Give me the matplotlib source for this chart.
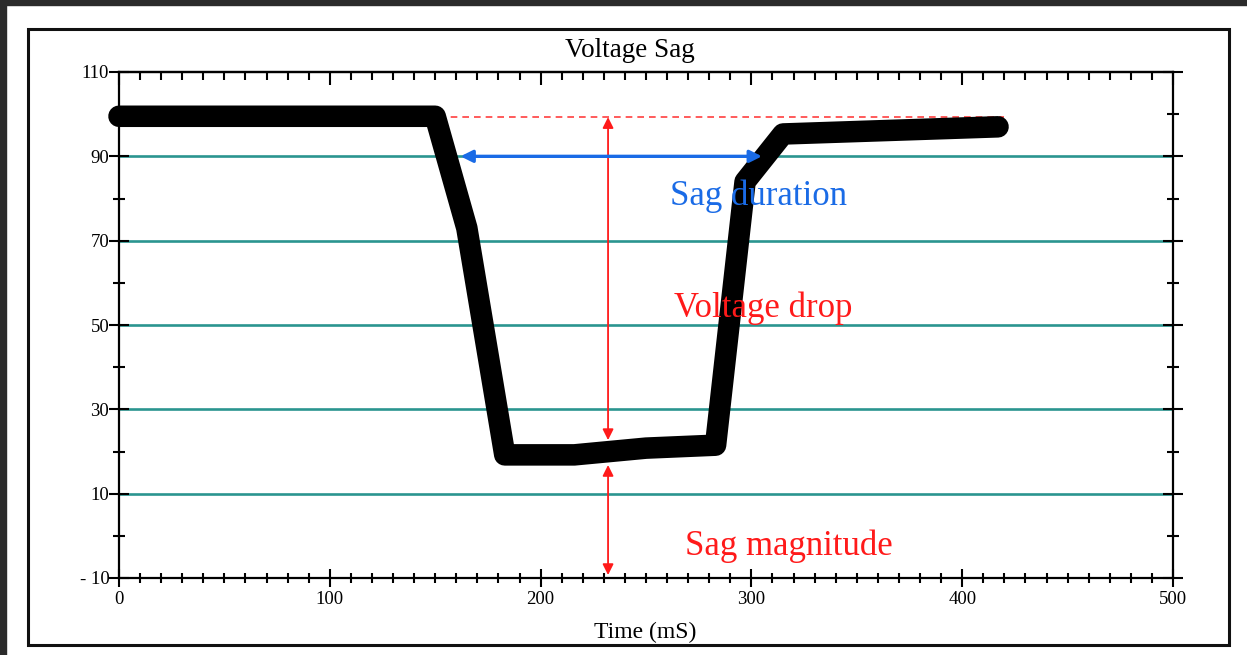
import numpy as np
import matplotlib
matplotlib.use("Agg")
from matplotlib import pyplot as plt
from matplotlib.patches import Rectangle
from matplotlib.ticker import MultipleLocator

plt.rcParams['font.family'] = ['Liberation Serif', 'DejaVu Serif']

# voltage trace (time in mS, voltage)
time_ms = [0, 150, 165, 183, 216, 250, 283, 297, 315, 417]
voltage = [99.5, 99.5, 73, 19.2, 19.2, 20.8, 21.5, 84, 95.3, 97]

grid_levels = [10, 30, 50, 70, 90]
y_ticks = [-10, 10, 30, 50, 70, 90, 110]
y_ticklabels = ["- 10", "10", "30", "50", "70", "90", "110"]
x_ticks = [0, 100, 200, 300, 400, 500]

# annotation values
pre_sag_level = 99.3
dashed_span = [152, 420]
drop_x = 232
drop_top, drop_bottom = 99.3, 22.7
mag_top, mag_bottom = 16.8, -9.3
duration_y = 90
duration_span = [162, 305]

W, H = 1247, 655
fig = plt.figure(figsize=(W / 100, H / 100), dpi=100)

# dark frame strips + outer box
fig.patches.append(Rectangle((0, 1 - 5 / H), 1, 5 / H, transform=fig.transFigure,
                             color="#2b2b2b", zorder=0))
fig.patches.append(Rectangle((0, 0), 6 / W, 1, transform=fig.transFigure,
                             color="#2b2b2b", zorder=0))
fig.patches.append(Rectangle((28 / W, 1 - 645 / H), (1229 - 28) / W, (645 - 29) / H,
                             transform=fig.transFigure, fill=False, ec="#111111",
                             lw=2.2, zorder=1))

ax = fig.add_axes([119 / W, 1 - 578 / H, (1173 - 119) / W, (578 - 72) / H])
ax.set_xlim(0, 500)
ax.set_ylim(-10, 110)

for g in grid_levels:
    ax.axhline(g, color="#2a958f", lw=1.9, zorder=1)

ax.plot(time_ms, voltage, color="black", lw=15.5, solid_capstyle="round",
        solid_joinstyle="round", zorder=3, clip_on=False)

ax.plot(dashed_span, [pre_sag_level, pre_sag_level], color="#ff4040", lw=1.2,
        dashes=(4, 3), zorder=2)

red_arrow = dict(arrowstyle="<|-|>", color="#ff1a1a", lw=1.3, mutation_scale=16,
                 shrinkA=0, shrinkB=0)
ax.annotate("", xy=(drop_x, drop_top), xytext=(drop_x, drop_bottom),
            arrowprops=red_arrow, zorder=4)
ax.annotate("", xy=(drop_x, mag_top), xytext=(drop_x, mag_bottom),
            arrowprops=red_arrow, zorder=4)
ax.annotate("", xy=(duration_span[0], duration_y), xytext=(duration_span[1], duration_y),
            arrowprops=dict(arrowstyle="<|-|>", color="#1a6be6", lw=2.4,
                            mutation_scale=18, shrinkA=0, shrinkB=0), zorder=4)

ax.text(303.4, 78.5, "Sag duration", color="#1a6be6", fontsize=25,
        ha="center", va="baseline", zorder=5)
ax.text(305.8, 51.9, "Voltage drop", color="#ff1a1a", fontsize=25,
        ha="center", va="baseline", zorder=5)
ax.text(317.8, -4.5, "Sag magnitude", color="#ff1a1a", fontsize=25,
        ha="center", va="baseline", zorder=5)

# ticks
ax.set_xticks(x_ticks)
ax.xaxis.set_minor_locator(MultipleLocator(10))
ax.set_yticks(y_ticks)
ax.set_yticklabels(y_ticklabels)
ax.yaxis.set_minor_locator(MultipleLocator(10))
ax.tick_params(axis="x", which="major", direction="inout", length=13, width=1.5,
               labelsize=13.5, pad=3)
ax.tick_params(axis="x", which="minor", direction="inout", length=7, width=1.5)
ax.tick_params(axis="y", which="major", direction="inout", length=14, width=1.5,
               labelsize=13.5, pad=0, right=True)
ax.tick_params(axis="y", which="minor", direction="inout", length=8, width=1.5,
               right=True)

top = ax.secondary_xaxis("top")
top.set_xticks(x_ticks)
top.xaxis.set_minor_locator(MultipleLocator(10))
top.tick_params(which="major", direction="in", length=9, width=1.5, labeltop=False)
top.tick_params(which="minor", direction="in", length=6, width=1.5)

for s in ax.spines.values():
    s.set_linewidth(1.6)
top.spines["top"].set_linewidth(1.6)

fig.text(630 / W, 1 - 57 / H, "Voltage Sag", ha="center", va="baseline", fontsize=19.5)
fig.text(645 / W, 1 - 638 / H, "Time (mS)", ha="center", va="baseline", fontsize=17)

plt.savefig("out.png", dpi=100)
